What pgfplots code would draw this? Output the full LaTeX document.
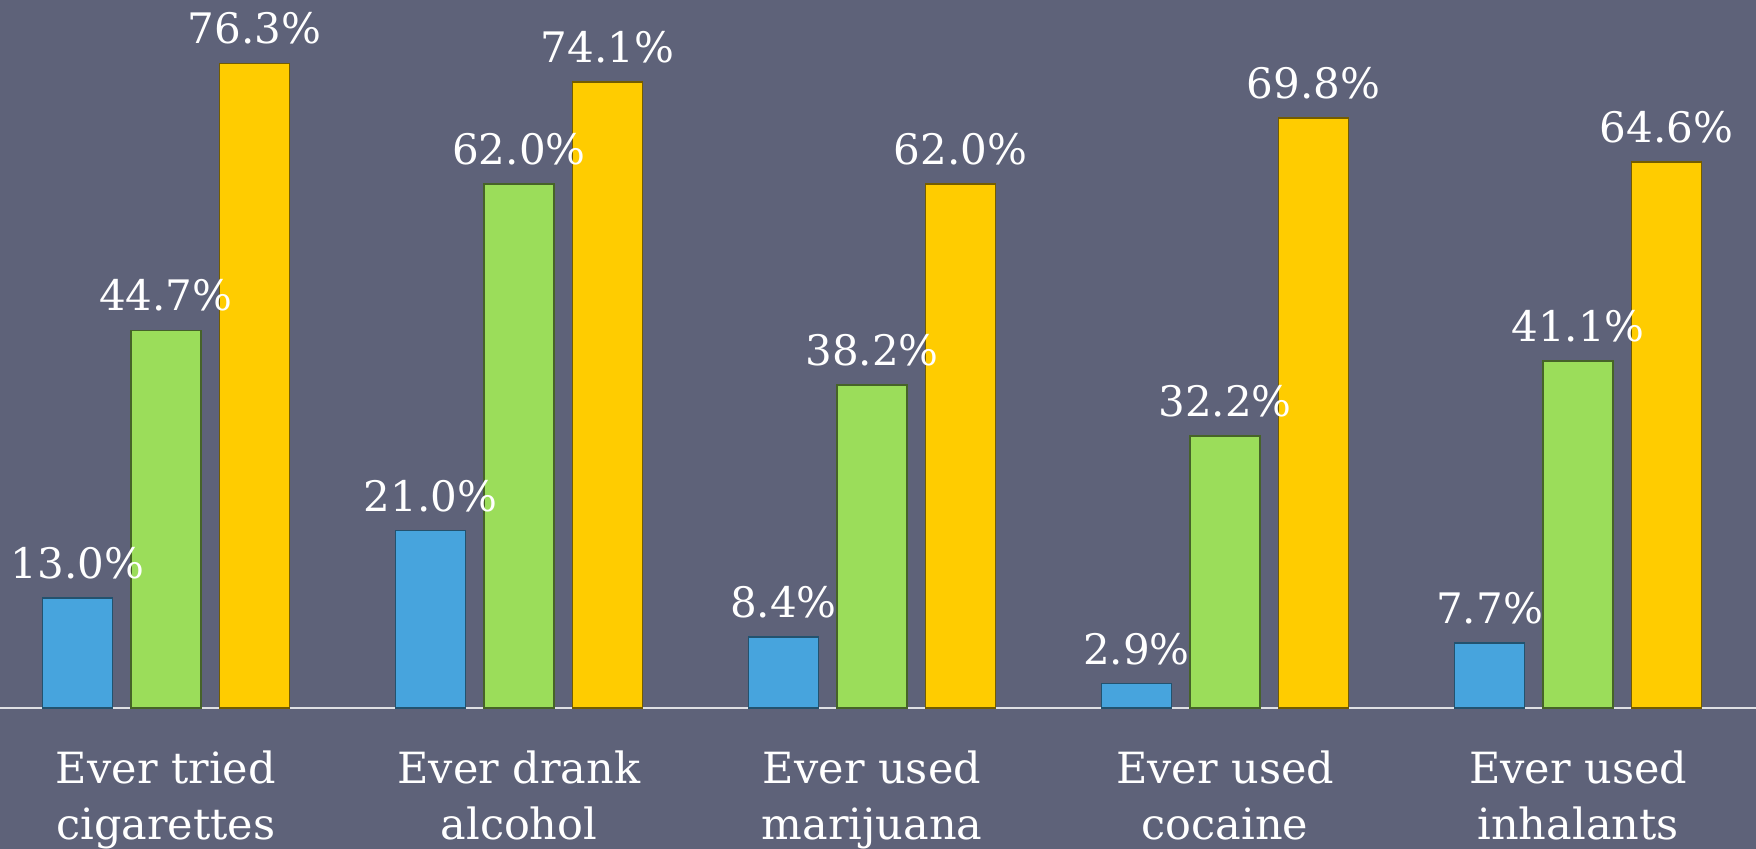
\documentclass[border=0pt]{standalone}
\usepackage{pgfplots}
\pgfplotsset{compat=1.18}
\usepackage{fontspec}
\setmainfont{DejaVu Serif}
\definecolor{bg}{HTML}{5E6279}
\definecolor{cblue}{HTML}{47A4DD}
\definecolor{cgreen}{HTML}{9BDD5A}
\definecolor{cyellow}{HTML}{FFCC00}
\begin{document}
\begin{tikzpicture}
\fill[bg] (0,-70.5pt) rectangle (878pt,354pt);
\useasboundingbox (0,-70.5pt) rectangle (878pt,354pt);
\begin{axis}[
  at={(0,0)}, anchor=south west,
  scale only axis, width=878pt, height=354pt,
  xmin=-0.470, xmax=4.504, ymin=0, ymax=83.8,
  ybar, bar width=35pt,
  axis x line*=bottom, axis y line=none,
  x axis line style={draw=white!80!bg, line width=1.2pt, -},
  xtick={0,1,2,3,4}, major tick length=0pt,
  xticklabels={{Ever tried\\cigarettes},{Ever drank\\alcohol},{Ever used\\marijuana},{Ever used\\cocaine},{Ever used\\inhalants}},
  xticklabel style={align=center, text=white, font=\fontsize{21.5}{28}\selectfont, inner sep=0pt, yshift=-21pt},
  /pgf/number format/assume math mode=true,
  nodes near coords={\pgfmathprintnumber[fixed,fixed zerofill,precision=1]{\pgfplotspointmeta}\%},
  nodes near coords style={text=white, font=\fontsize{21}{25}\selectfont, inner sep=0pt, yshift=9pt, anchor=south},
  clip=false,
]
\addplot[fill=cblue, draw=cblue!50!black, line width=0.8pt, bar shift=-44.25pt] coordinates {(0,13.0) (1,21.0) (2,8.4) (3,2.9) (4,7.7)};
\addplot[fill=cgreen, draw=cgreen!45!black, line width=0.8pt, bar shift=0pt] coordinates {(0,44.7) (1,62.0) (2,38.2) (3,32.2) (4,41.1)};
\addplot[fill=cyellow, draw=cyellow!45!black, line width=0.8pt, bar shift=44.25pt] coordinates {(0,76.3) (1,74.1) (2,62.0) (3,69.8) (4,64.6)};
\end{axis}
\end{tikzpicture}
\end{document}
